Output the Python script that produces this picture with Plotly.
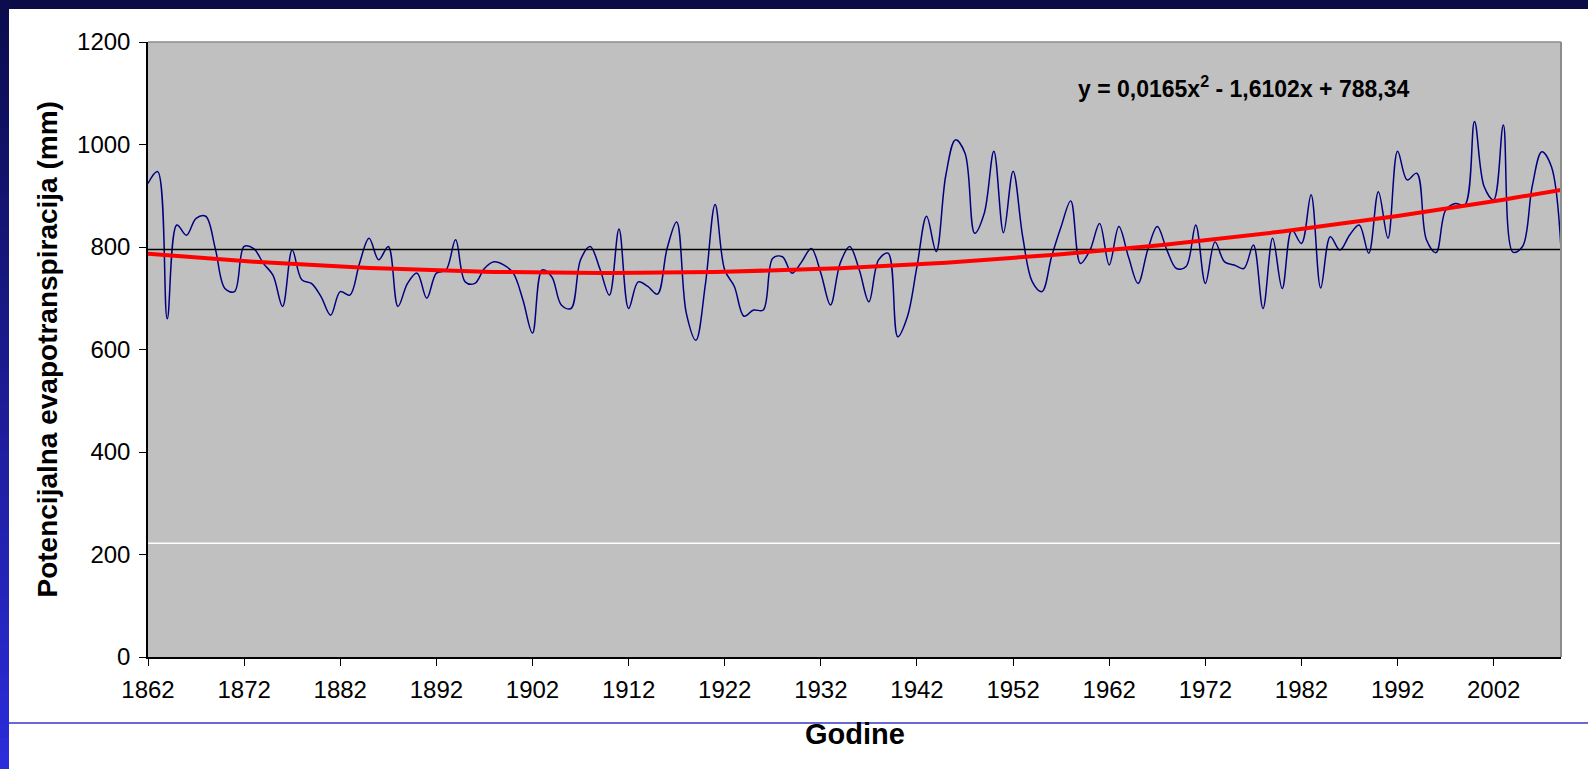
import numpy as np
import plotly.graph_objects as go

# Annual potential evapotranspiration (mm), 1862-2009
years = list(range(1862, 2010))
pet_mm = [
    924, 947, 660, 843, 823, 856, 860, 797, 719, 713,   # 1862-1871
    801, 797, 768, 745, 684, 794, 736, 729, 703, 667,   # 1872-1881
    713, 706, 768, 817, 775, 801, 684, 729, 749, 700,   # 1882-1891
    749, 755, 814, 732, 729, 758, 771, 765, 749, 697,   # 1892-1901
    632, 755, 742, 687, 680, 775, 801, 758, 706, 835,   # 1902-1911
    680, 732, 723, 708, 797, 849, 671, 618, 729, 883,   # 1912-1921
    755, 723, 665, 677, 677, 778, 781, 749, 771, 797,   # 1922-1931
    749, 687, 768, 801, 755, 693, 775, 788, 625, 664,   # 1932-1941
    762, 860, 791, 940, 1009, 983, 827, 866, 987, 828,  # 1942-1951
    948, 820, 732, 713, 781, 840, 890, 768, 794, 846,   # 1952-1961
    765, 840, 781, 729, 794, 840, 794, 758, 762, 843,   # 1962-1971
    729, 810, 771, 765, 758, 804, 680, 817, 719, 833,   # 1972-1981
    807, 902, 720, 820, 794, 823, 843, 788, 908, 817,   # 1982-1991
    987, 931, 944, 814, 789, 872, 885, 882, 1045, 918,  # 1992-2001
    892, 1038, 790, 801, 918, 986, 957, 797,            # 2002-2009
]
mean_level = 795          # long-term average line
white_level = 222         # white reference line
trend_coef = [0.0165, -1.6102, 788.34]   # quadratic trend, x = year index from 1
x_ticks = list(range(1862, 2003, 10))
y_ticks = [0, 200, 400, 600, 800, 1000, 1200]

W, H = 1588, 769
PL, PR, PT, PB = 148, 1561, 42, 657      # plot rectangle in pixels


def px(x):
    return x / W


def py(y):
    return 1 - y / H


idx = np.arange(1, len(years) + 1)
trend = np.polyval(trend_coef, idx)

FONT = "Liberation Sans, Arial, sans-serif"

fig = go.Figure()
fig.add_trace(go.Scatter(
    x=[years[0], years[-1]], y=[white_level, white_level], mode="lines",
    line=dict(color="#FFFFFF", width=1.5), hoverinfo="skip", showlegend=False))
fig.add_trace(go.Scatter(
    x=years, y=pet_mm, mode="lines",
    line=dict(color="#000080", width=1.5, shape="spline", smoothing=1),
    showlegend=False))
fig.add_trace(go.Scatter(
    x=[years[0], years[-1]], y=[mean_level, mean_level], mode="lines",
    line=dict(color="#000000", width=1.5), showlegend=False))
fig.add_trace(go.Scatter(
    x=years, y=trend, mode="lines",
    line=dict(color="#FF0000", width=4), showlegend=False))


def fmt(v):
    return f"{abs(v):g}".replace(".", ",")


a, b, c = trend_coef
eq_text = (f"<b>y = {fmt(a)}x<sup>2</sup> {'-' if b < 0 else '+'} {fmt(b)}x "
           f"{'-' if c < 0 else '+'} {fmt(c)}</b>")

shapes = []
# slide frame: top band and left gradient band
shapes.append(dict(type="rect", xref="paper", yref="paper", x0=0, x1=1,
                   y0=py(9), y1=1, fillcolor="#0B0B46", line=dict(width=0),
                   layer="above"))
n = 48
c0 = np.array([12, 12, 78])
c1 = np.array([44, 44, 218])
for i in range(n):
    t = i / (n - 1)
    col = (c0 + (c1 - c0) * t).astype(int)
    shapes.append(dict(type="rect", xref="paper", yref="paper",
                       x0=0, x1=px(9), y0=py((i + 1) * H / n + 1), y1=py(i * H / n),
                       fillcolor=f"rgb({col[0]},{col[1]},{col[2]})",
                       line=dict(width=0), layer="above"))
shapes.append(dict(type="line", xref="paper", yref="paper", x0=px(9), x1=1,
                   y0=py(723), y1=py(723), line=dict(color="#3636C8", width=1.5)))
# grey border on top and right of the plot area
shapes.append(dict(type="line", xref="paper", yref="paper", x0=px(PL), x1=px(PR),
                   y0=py(PT), y1=py(PT), line=dict(color="#8C8C8C", width=1.5),
                   layer="above"))
shapes.append(dict(type="line", xref="paper", yref="paper", x0=px(PR), x1=px(PR),
                   y0=py(PB), y1=py(PT), line=dict(color="#8C8C8C", width=2),
                   layer="above"))

annotations = [
    dict(text="<b>Potencijalna evapotranspiracija (mm)</b>", textangle=-90,
         xref="paper", yref="paper", x=px(47), y=py(349.5), showarrow=False,
         xanchor="center", yanchor="middle",
         font=dict(family=FONT, size=28, color="#000000")),
    dict(text="<b>Godine</b>", xref="paper", yref="paper", x=px(855), y=py(734),
         showarrow=False, xanchor="center", yanchor="middle",
         font=dict(family=FONT, size=29, color="#000000")),
    dict(text=eq_text, xref="paper", yref="paper", x=px(1243), y=py(87),
         showarrow=False, xanchor="center", yanchor="middle",
         font=dict(family=FONT, size=23, color="#000000")),
]

fig.update_layout(
    width=W, height=H,
    margin=dict(l=0, r=0, t=0, b=0, pad=0),
    paper_bgcolor="#FFFFFF",
    plot_bgcolor="#C0C0C0",
    shapes=shapes,
    annotations=annotations,
    font=dict(family=FONT, size=24, color="#000000"),
    xaxis=dict(
        domain=[px(PL), px(PR)], range=[years[0], years[-1]],
        automargin=False,
        tickmode="array", tickvals=x_ticks, ticktext=[str(v) for v in x_ticks],
        ticks="outside", ticklen=7, tickwidth=1, tickcolor="#000000",
        ticklabelstandoff=3,
        showline=True, linecolor="#000000", linewidth=2,
        showgrid=False, zeroline=False,
        tickfont=dict(family=FONT, size=24, color="#000000"),
    ),
    yaxis=dict(
        domain=[py(PB), py(PT)], range=[0, 1200],
        automargin=False,
        tickmode="array", tickvals=y_ticks,
        ticks="outside", ticklen=7, tickwidth=1, tickcolor="#000000",
        ticklabelstandoff=4,
        showline=True, linecolor="#000000", linewidth=1.5,
        showgrid=False, zeroline=False,
        tickfont=dict(family=FONT, size=24, color="#000000"),
    ),
)

fig.write_html("out.html")
